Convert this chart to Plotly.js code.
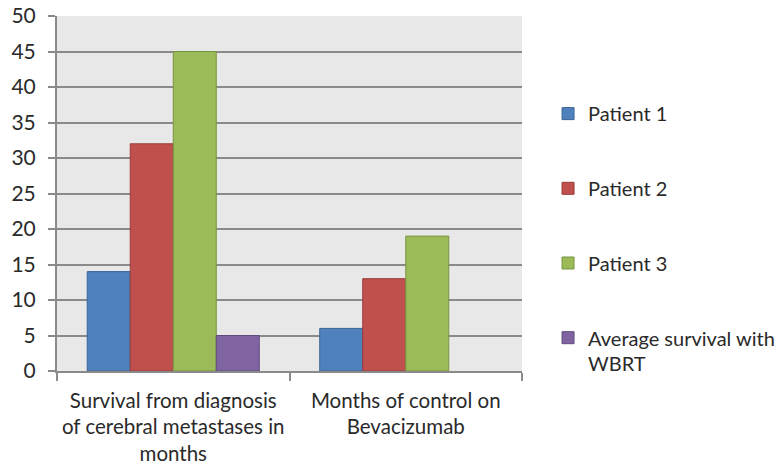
<!DOCTYPE html>
<html>
<head>
<meta charset="utf-8">
<script src="https://cdn.plot.ly/plotly-3.0.1.min.js"></script>
<style>html,body{margin:0;padding:0;background:#fff;}#chart{width:781px;height:466px;}</style>
</head>
<body>
<div id="chart"></div>
<script>
var categories = ["Survival from diagnosis<br>of cerebral metastases in<br>months", "Months of control on<br>Bevacizumab"];
var seriesNames = ["Patient 1", "Patient 2", "Patient 3", "Average survival with<br>WBRT"];
var patient1 = [14, 6];
var patient2 = [32, 13];
var patient3 = [45, 19];
var averageWBRT = [5, null];
var yTicks = [0, 5, 10, 15, 20, 25, 30, 35, 40, 45, 50];

var seriesValues = [patient1, patient2, patient3, averageWBRT];
var fills = ["#4F81BD", "#C0504D", "#9BBB59", "#8064A2"];
var borders = ["#3A6496", "#9B3B38", "#78943F", "#5F4A7C"];

var traces = seriesValues.map(function (vals, i) {
  return {
    type: "bar",
    name: seriesNames[i],
    x: categories,
    y: vals,
    legendgroup: "g" + i,
    marker: { color: fills[i], line: { color: borders[i], width: 1 } },
    hoverinfo: "skip"
  };
});

var fontFam = "Lato, 'Open Sans', sans-serif";
var textCol = "#2a2a2a";
var layout = {
  width: 781,
  height: 466,
  margin: { l: 57, r: 259, t: 16, b: 95, pad: 0, autoexpand: false },
  paper_bgcolor: "#ffffff",
  plot_bgcolor: "#e8e8e8",
  barmode: "group",
  bargap: 0.26,
  bargroupgap: 0,
  showlegend: true,
  legend: {
    x: 1.056, xanchor: "left",
    y: 0.78, yanchor: "top",
    tracegroupgap: 45.7,
    valign: "top",
    font: { family: fontFam, size: 20, color: textCol },
    bgcolor: "rgba(0,0,0,0)"
  },
  xaxis: {
    type: "category",
    tickson: "boundaries",
    ticks: "outside",
    ticklen: 8,
    tickwidth: 2,
    tickcolor: "#8a8a8a",
    showline: true,
    linecolor: "#8a8a8a",
    linewidth: 2,
    showgrid: false,
    tickangle: 0,
    tickfont: { family: fontFam, size: 20.5, color: textCol },
    ticklabelstandoff: 10,
    fixedrange: true
  },
  yaxis: {
    range: [0, 50],
    tickmode: "array",
    tickvals: yTicks,
    ticktext: yTicks.map(String),
    ticks: "outside",
    ticklen: 7,
    tickwidth: 2,
    tickcolor: "#8a8a8a",
    showline: true,
    linecolor: "#8a8a8a",
    linewidth: 2,
    showgrid: true,
    gridcolor: "#8a8a8a",
    gridwidth: 2,
    zeroline: false,
    tickfont: { family: fontFam, size: 21, color: textCol },
    ticklabelstandoff: 8,
    fixedrange: true
  }
};

Plotly.newPlot("chart", traces, layout, { displayModeBar: false, staticPlot: true });
</script>
</body>
</html>
